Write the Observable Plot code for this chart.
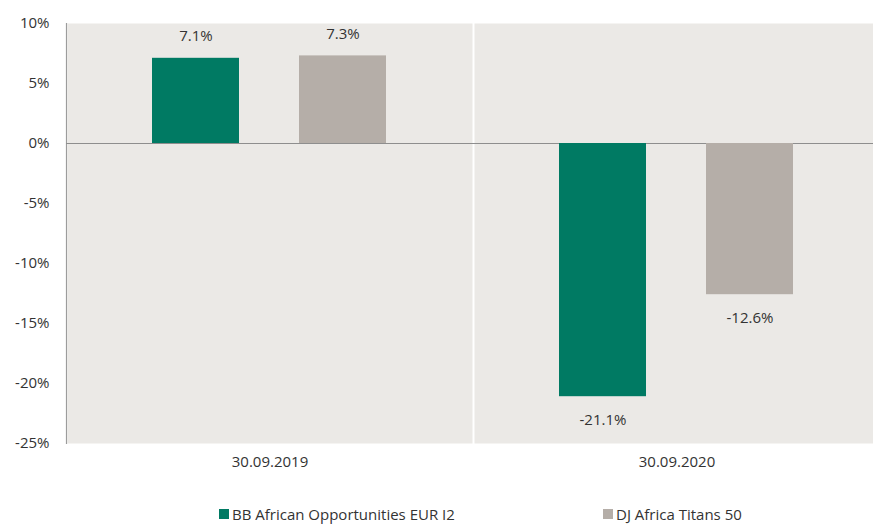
<!DOCTYPE html>
<html>
<head>
<meta charset="utf-8">
<script src="https://cdn.jsdelivr.net/npm/d3@7"></script>
<script src="https://cdn.jsdelivr.net/npm/@observablehq/plot@0.6"></script>
<style>
  html, body { margin: 0; padding: 0; background: #ffffff; overflow: hidden; }
  #wrap { width: 873px; height: 525px; overflow: hidden; position: relative; font-family: "Open Sans", "Noto Sans", sans-serif; }
  #wrap svg { max-width: none !important; display: block; }
  #legend { position: relative; height: 30px; font-size: 15px; color: #333333; }
  .item { position: absolute; top: 11px; display: flex; align-items: center; white-space: nowrap; line-height: 16px; }
  .sw { width: 10px; height: 10px; margin-right: 3px; display: inline-block; }
</style>
</head>
<body>
<div id="wrap"></div>
<script>
const dates = ["30.09.2019", "30.09.2020"];
const seriesNames = ["BB African Opportunities EUR I2", "DJ Africa Titans 50"];
const bbValues = [7.1, -21.1];
const djValues = [7.3, -12.6];
const yTicks = [10, 5, 0, -5, -10, -15, -20, -25];
const colors = ["#007a63", "#b5aea8"];
const legendLeft = [219, 603];

const data = dates.flatMap((d, i) => [
  {date: d, series: seriesNames[0], value: bbValues[i]},
  {date: d, series: seriesNames[1], value: djValues[i]}
]);
const fmt = v => v.toFixed(1) + "%";

const chart = Plot.plot({
  width: 880,
  height: 495,
  marginLeft: 66,
  marginRight: 0,
  marginTop: 23,
  marginBottom: 52,
  style: {fontFamily: '"Open Sans", "Noto Sans", sans-serif', fontSize: "15px", color: "#333333", background: "#ffffff", maxWidth: "none"},
  fx: {domain: dates, padding: 0, label: null},
  x: {domain: seriesNames, paddingInner: 0.408, paddingOuter: 0.588, axis: null},
  y: {domain: [-25, 10], label: null},
  color: {domain: seriesNames, range: colors},
  marks: [
    Plot.frame({fill: "#ebe9e6", stroke: null, insetLeft: 1, insetRight: 1}),
    Plot.frame({anchor: "left", stroke: "#9c9c9c", strokeWidth: 1.2, facetAnchor: "left"}),
    Plot.ruleY([0], {stroke: "#8e8e8e", strokeWidth: 1}),
    Plot.barY(data, {fx: "date", x: "series", y: "value", fill: "series"}),
    Plot.text(data.filter(d => d.value >= 0), {fx: "date", x: "series", y: "value", text: d => fmt(d.value), dy: -22, fill: "#333333", fontSize: 15}),
    Plot.text(data.filter(d => d.value < 0), {fx: "date", x: "series", y: "value", text: d => fmt(d.value), dy: 23, fill: "#333333", fontSize: 15}),
    Plot.axisY({ticks: yTicks, tickSize: 0, tickPadding: 17, tickFormat: d => d + "%", label: null, fontSize: 15, fill: "#333333"}),
    Plot.axisFx({anchor: "bottom", tickSize: 0, tickPadding: 13, label: null, fontSize: 15, fill: "#333333"})
  ]
});
chart.style.maxWidth = "none";

const wrap = document.getElementById("wrap");
wrap.appendChild(chart);
const legend = document.createElement("div");
legend.id = "legend";
seriesNames.forEach((s, i) => {
  const it = document.createElement("div");
  it.className = "item";
  it.style.left = legendLeft[i] + "px";
  const sw = document.createElement("span");
  sw.className = "sw";
  sw.style.background = colors[i];
  const tx = document.createElement("span");
  tx.textContent = s;
  it.appendChild(sw);
  it.appendChild(tx);
  legend.appendChild(it);
});
wrap.appendChild(legend);
</script>
</body>
</html>
